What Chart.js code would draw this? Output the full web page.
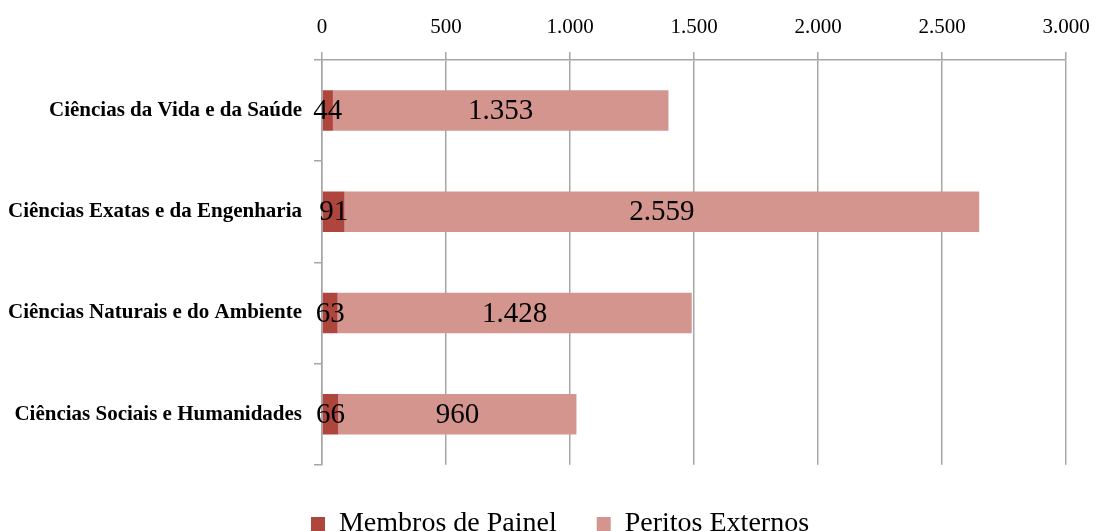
<!DOCTYPE html>
<html>
<head>
<meta charset="utf-8">
<script src="https://cdn.jsdelivr.net/npm/chart.js@4/dist/chart.umd.min.js"></script>
<style>
html,body{margin:0;padding:0;background:#fff;overflow:hidden;}
#wrap{width:1120px;height:548px;position:relative;}
</style>
</head>
<body>
<div id="wrap"><canvas id="c"></canvas></div>
<script>
const categories = ['Ciências da Vida e da Saúde', 'Ciências Exatas e da Engenharia', 'Ciências Naturais e do Ambiente', 'Ciências Sociais e Humanidades'];
const seriesNames = ['Membros de Painel', 'Peritos Externos'];
const membros = [44, 91, 63, 66];
const peritos = [1353, 2559, 1428, 960];
const xTicks = [0, 500, 1000, 1500, 2000, 2500, 3000];

const fmt = v => String(v).replace(/\B(?=(\d{3})+(?!\d))/g, '.');
const FONT = "'Liberation Serif', 'Times New Roman', serif";

const dataLabels = {
  id: 'dataLabels',
  afterDatasetsDraw(chart) {
    const ctx = chart.ctx;
    ctx.save();
    ctx.font = "29px " + FONT;
    ctx.fillStyle = '#000';
    ctx.textAlign = 'center';
    ctx.textBaseline = 'middle';
    chart.data.datasets.forEach((ds, i) => {
      const meta = chart.getDatasetMeta(i);
      meta.data.forEach((bar, j) => {
        const cx = (bar.x + bar.base) / 2;
        ctx.fillText(fmt(ds.data[j]), cx, bar.y + 1);
      });
    });
    ctx.restore();
  }
};

new Chart(document.getElementById('c'), {
  type: 'bar',
  data: {
    labels: categories,
    datasets: [
      { label: seriesNames[0], data: membros, backgroundColor: '#AE463E', categoryPercentage: 0.8, barPercentage: 0.5 },
      { label: seriesNames[1], data: peritos, backgroundColor: '#D4958F', categoryPercentage: 0.8, barPercentage: 0.5 }
    ]
  },
  options: {
    indexAxis: 'y',
    responsive: true,
    maintainAspectRatio: false,
    animation: false,
    layout: { padding: { left: 0, right: 0, top: 0, bottom: 0 } },
    plugins: {
      legend: {
        position: 'bottom',
        title: { display: true, text: '', font: { size: 1 }, padding: { top: 4, bottom: 0 } },
        labels: {
          font: { family: FONT, size: 28 },
          color: '#000',
          boxWidth: 14,
          boxHeight: 14,
          padding: 40
        }
      },
      tooltip: { enabled: false }
    },
    scales: {
      x: {
        position: 'top',
        stacked: true,
        min: 0,
        max: 3000,
        afterBuildTicks(scale) { scale.ticks = xTicks.map(v => ({ value: v })); },
        afterFit(scale) { scale.height = 60; scale.paddingRight = 54; },
        ticks: {
          font: { family: FONT, size: 21 },
          color: '#000',
          padding: 12,
          callback: v => fmt(v)
        },
        grid: { color: '#A6A6A6', lineWidth: 1.5, tickLength: 8, drawOnChartArea: true },
        border: { color: '#A6A6A6', width: 1.5 }
      },
      y: {
        stacked: true,
        afterFit(scale) { scale.width = 322; },
        ticks: {
          font: { family: FONT, size: 21, weight: 'bold' },
          color: '#000',
          padding: 12
        },
        grid: { offset: true, drawOnChartArea: false, color: '#A6A6A6', lineWidth: 1.5, tickLength: 8 },
        border: { color: '#A6A6A6', width: 1.5 }
      }
    }
  },
  plugins: [dataLabels]
});
</script>
</body>
</html>
